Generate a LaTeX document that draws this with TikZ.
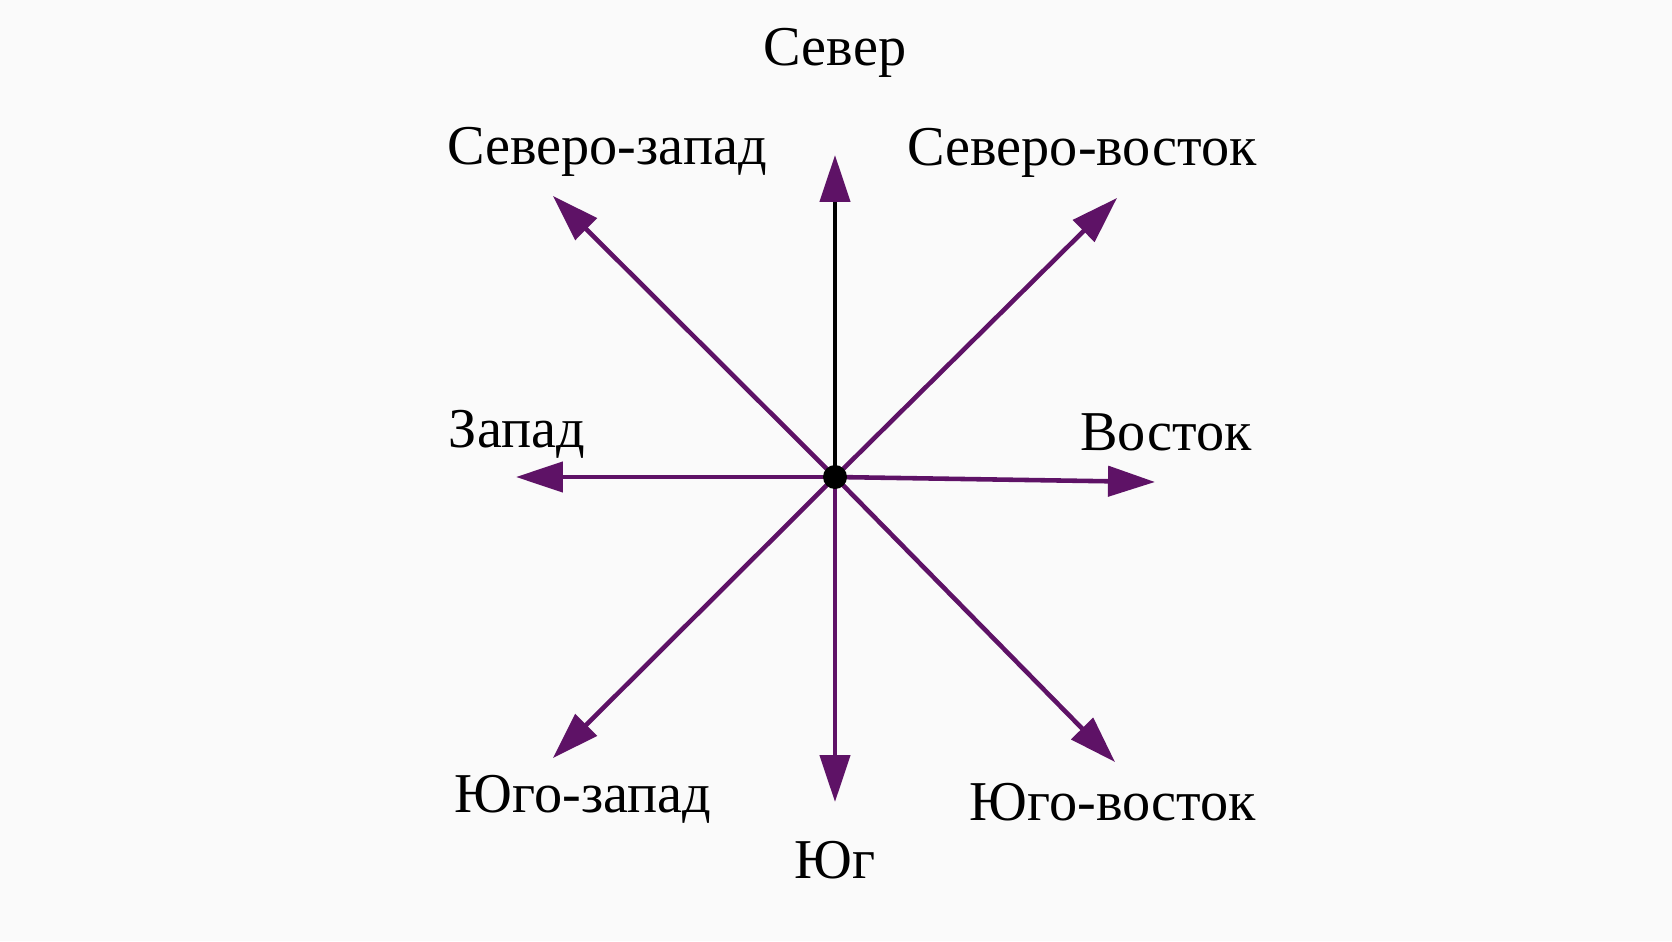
\documentclass[tikz,border=0pt]{standalone}
\usepackage{fontspec}
\setmainfont{Liberation Serif}
\usetikzlibrary{arrows.meta}
\definecolor{rosepurple}{HTML}{5E1266}

\begin{document}
\begin{tikzpicture}[
  dir/.style={draw=rosepurple, line width=1.3pt, -{Triangle[length=4.7mm,width=3mm,color=rosepurple]}},
  side/.style={font=\fontsize{16}{19}\selectfont, anchor=base, inner sep=0pt}]
  \fill[black!2] (-8.35,-4.64) rectangle (8.37,4.77);
  \useasboundingbox (-8.35,-4.64) rectangle (8.37,4.77);
  %CENTRE et POINTES
  \coordinate (O) at (0,0);
  \coordinate (N) at (0,3.22);
  \coordinate (NE) at (2.82,2.79);
  \coordinate (E) at (3.20,-0.05);
  \coordinate (SE) at (2.80,-2.85);
  \coordinate (S) at (0,-3.25);
  \coordinate (SW) at (-2.82,-2.81);
  \coordinate (W) at (-3.19,0);
  \coordinate (NW) at (-2.82,2.81);
  %FLECHES
  \draw[dir,draw=black] (O) -- (N);
  \draw[dir] (O) -- (NE);
  \draw[dir] (O) -- (E);
  \draw[dir] (O) -- (SE);
  \draw[dir] (O) -- (S);
  \draw[dir] (O) -- (SW);
  \draw[dir] (O) -- (W);
  \draw[dir] (O) -- (NW);
  \fill (O) circle (0.12);
  %ETIQUETTES
  \node[side] (nord) at (0,4.11) {Север};
  \node[side] (nordouest) at (-2.28,3.12) {Северо-запад};
  \node[side] (nordest) at (2.47,3.11) {Северо-восток};
  \node[side] (ouest) at (-3.18,0.30) {Запад};
  \node[side] (est) at (3.31,0.27) {Восток};
  \node[side] (sudouest) at (-2.52,-3.35) {Юго-запад};
  \node[side] (sud) at (0,-4.01) {Юг};
  \node[side] (sudest) at (2.78,-3.43) {Юго-восток};
\end{tikzpicture}
\end{document}
